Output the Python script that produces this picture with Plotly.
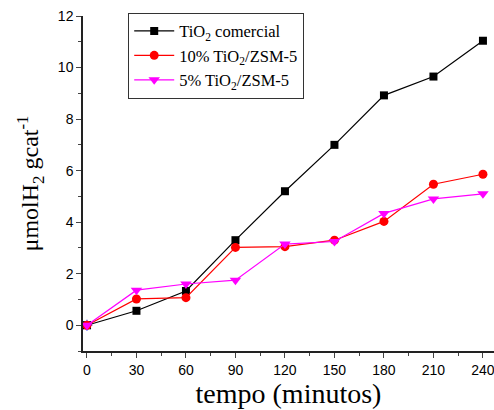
import plotly.graph_objects as go

tempo = [0, 30, 60, 90, 120, 150, 180, 210, 240]
tio2_comercial = [0, 0.56, 1.33, 3.3, 5.2, 7.0, 8.92, 9.65, 11.04]
tio2_zsm5_10 = [0, 1.02, 1.07, 3.02, 3.05, 3.3, 4.03, 5.47, 5.86]
tio2_zsm5_5 = [0, 1.36, 1.6, 1.75, 3.15, 3.25, 4.34, 4.9, 5.1]
origem_x = [0]
origem_y = [0]

fig = go.Figure()
fig.add_trace(go.Scatter(x=origem_x, y=origem_y, mode="markers", showlegend=False,
                         marker=dict(symbol="asterisk-open", size=9,
                                     line=dict(color="blue", width=1.5))))
fig.add_trace(go.Scatter(x=tempo, y=tio2_comercial, mode="lines+markers",
                         name="TiO<sub>2</sub> comercial",
                         line=dict(color="black", width=1.2),
                         marker=dict(symbol="square", size=8, color="black")))
fig.add_trace(go.Scatter(x=tempo, y=tio2_zsm5_10, mode="lines+markers",
                         name="10% TiO<sub>2</sub>/ZSM-5",
                         line=dict(color="red", width=1.2),
                         marker=dict(symbol="circle", size=9, color="red")))
fig.add_trace(go.Scatter(x=tempo, y=tio2_zsm5_5, mode="lines+markers",
                         name="5% TiO<sub>2</sub>/ZSM-5",
                         line=dict(color="magenta", width=1.2),
                         marker=dict(symbol="triangle-down", size=10, color="magenta")))

fig.update_layout(
    width=494, height=410,
    margin=dict(l=83, r=0, t=16, b=59),
    paper_bgcolor="white", plot_bgcolor="white",
    showlegend=True,
    legend=dict(x=0.11, y=1.01, xanchor="left", yanchor="top",
                bordercolor="#333", borderwidth=1, bgcolor="white",
                font=dict(family="Liberation Serif", size=16.5, color="black"),
                tracegroupgap=0, itemwidth=40),
    xaxis=dict(range=[-2.4, 246.7], tickvals=tempo, ticks="outside", ticklen=5,
               showline=True, linecolor="#222", linewidth=1.5, showgrid=False,
               zeroline=False, ticklabeloverflow="allow",
               tickfont=dict(family="Liberation Sans", size=14, color="black"),
               minor=dict(dtick=15, tick0=0, ticks="outside", ticklen=3, showgrid=False),
               title=dict(text="tempo (minutos)", standoff=4,
                          font=dict(family="Liberation Serif", size=28, color="black"))),
    yaxis=dict(range=[-1, 12], tickvals=[0, 2, 4, 6, 8, 10, 12], ticks="outside", ticklen=5,
               showline=True, linecolor="#222", linewidth=1.5, showgrid=False,
               zeroline=False, ticklabeloverflow="allow",
               tickfont=dict(family="Liberation Sans", size=14, color="black"),
               minor=dict(dtick=1, tick0=0, ticks="outside", ticklen=3, showgrid=False),
               title=dict(text="μmolH<sub>2</sub> gcat<sup>-1</sup>", standoff=12,
                          font=dict(family="Liberation Serif", size=24, color="black"))),
)

fig.write_html("out.html")
